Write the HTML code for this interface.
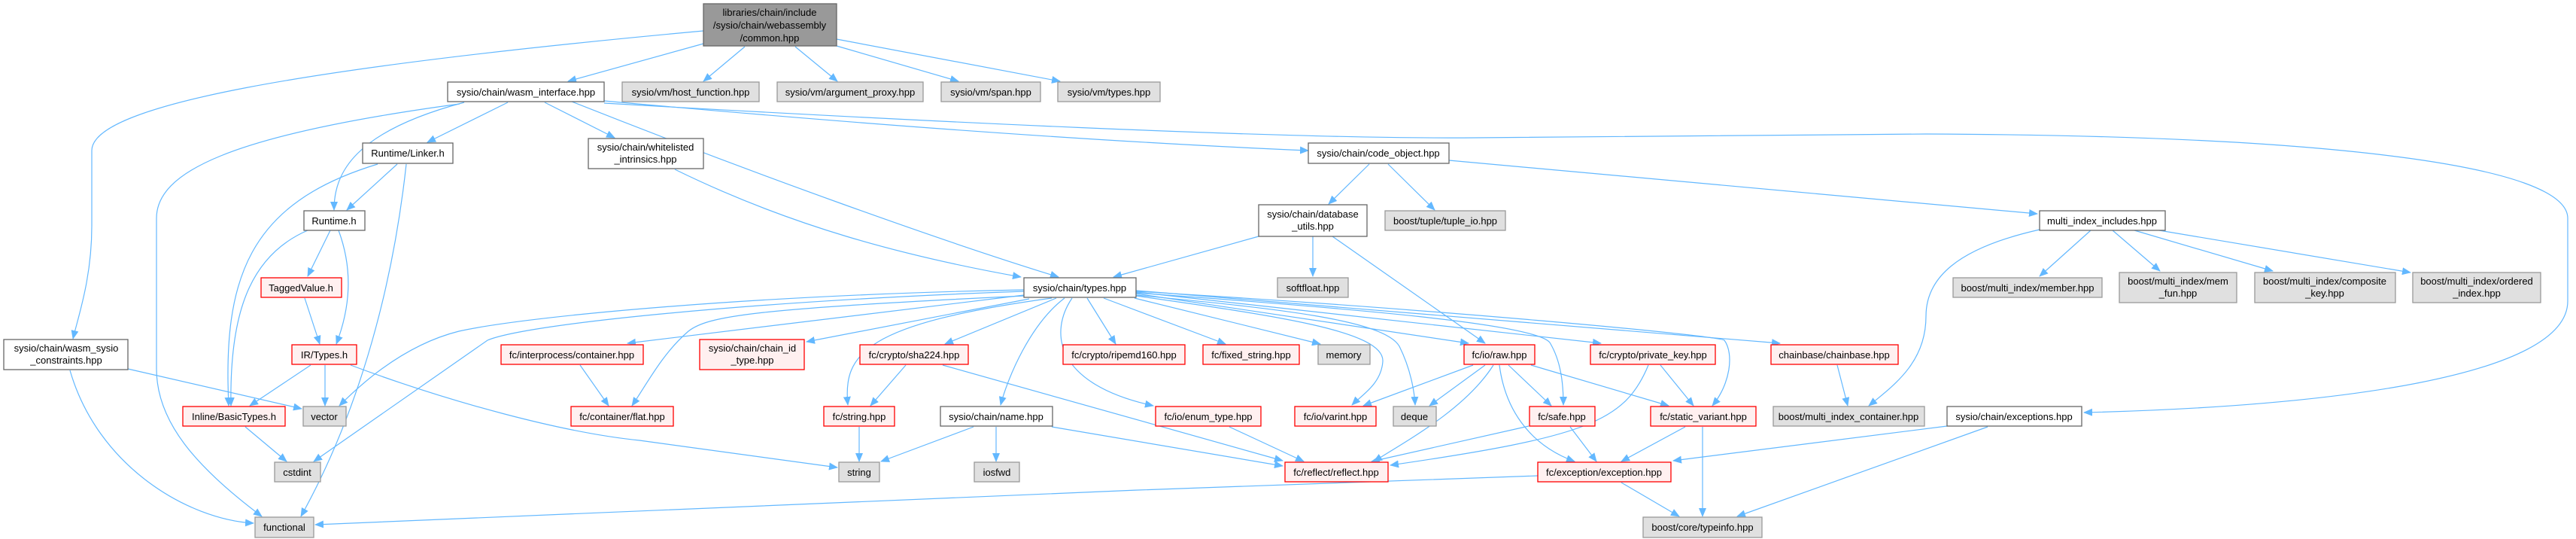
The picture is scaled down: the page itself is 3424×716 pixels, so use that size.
<!DOCTYPE html>
<html><head><meta charset="utf-8"><style>
html,body{margin:0;padding:0;background:#fff;}
svg{display:block;}
text{font-family:"Liberation Sans",Arial,sans-serif;font-size:13px;fill:#000;text-anchor:middle;}
.e{fill:none;stroke:#63b8ff;stroke-width:1.2;marker-end:url(#a);}
.w{fill:#fff;stroke:#666;stroke-width:1.3;}
.g{fill:#e0e0e0;stroke:#999;stroke-width:1.3;}
.r{fill:#fff0f0;stroke:#f00;stroke-width:1.3;}
.t{fill:#999;stroke:#666;stroke-width:1.3;}
</style></head><body>
<svg width="3424" height="716" viewBox="0 0 3424 716" xmlns="http://www.w3.org/2000/svg">
<defs><marker id="a" markerWidth="12" markerHeight="10" refX="11" refY="5" orient="auto" markerUnits="userSpaceOnUse"><path d="M0,0 L12,5 L0,10 z" fill="#63b8ff"/></marker></defs>

<!-- edges -->
<path class="e" d="M935,41 C400,90 122,140 122,200 L122,300 C122,370 104,420 97,450"/>
<path class="e" d="M935,58 L755,108"/>
<path class="e" d="M990,62 L935,108"/>
<path class="e" d="M1057,62 L1113,108"/>
<path class="e" d="M1112,61 L1274,108"/>
<path class="e" d="M1112,52 L1409,108"/>

<path class="e" d="M675,136 L568,189"/>
<path class="e" d="M724,136 L817,183"/>
<path class="e" d="M617,136 C470,175 444,230 444,279"/>
<path class="e" d="M611,138 C300,180 208,230 208,290 L208,490 C208,560 260,620 348,686"/>
<path class="e" d="M760,135 C1000,230 1250,320 1407,368"/>
<path class="e" d="M803,134 C1200,170 1500,190 1739,200"/>
<path class="e" d="M803,137 C1200,160 1700,185 1960,183 L2560,178 C3100,180 3413,220 3413,290 L3413,400 C3413,500 3100,540 2770,548"/>

<path class="e" d="M528,218 L461,279"/>
<path class="e" d="M502,218 C330,270 296,370 304,539"/>
<path class="e" d="M540,218 C520,400 470,560 400,686"/>

<path class="e" d="M439,306 L409,367"/>
<path class="e" d="M450,306 C470,360 465,410 447,457"/>
<path class="e" d="M409,306 C330,340 305,420 307,539"/>
<path class="e" d="M405,396 L425,457"/>

<path class="e" d="M413,485 L332,539"/>
<path class="e" d="M432,485 L432,539"/>
<path class="e" d="M466,485 C600,535 750,575 850,585 L1113,621"/>
<path class="e" d="M170,490 L401,543"/>
<path class="e" d="M93,492 C130,620 250,690 337,695"/>
<path class="e" d="M326,567 L381,613"/>

<path class="e" d="M1361,385 C1000,392 700,420 610,440 C530,460 470,520 451,539"/>
<path class="e" d="M1361,387 C1000,400 700,430 648,452 L417,613"/>
<path class="e" d="M1361,392 L834,456"/>
<path class="e" d="M1362,393 C1000,410 940,420 915,440 C880,470 860,510 840,539"/>
<path class="e" d="M1368,397 L1072,454"/>
<path class="e" d="M1398,396 C1150,430 1120,470 1127,538"/>
<path class="e" d="M1404,396 L1256,457"/>
<path class="e" d="M1415,396 C1370,430 1340,500 1330,538"/>
<path class="e" d="M1445,396 L1483,457"/>
<path class="e" d="M1425,396 C1395,440 1400,510 1533,539"/>
<path class="e" d="M1467,396 L1629,457"/>
<path class="e" d="M1508,396 L1755,457"/>
<path class="e" d="M1510,393 C1700,420 1840,440 1838,480 C1836,510 1810,525 1797,538"/>
<path class="e" d="M1510,392 C1700,410 1840,425 1860,460 C1875,490 1880,520 1881,538"/>
<path class="e" d="M1510,390 L1952,456"/>
<path class="e" d="M1510,389 C1800,410 2040,430 2060,455 C2075,480 2078,510 2078,538"/>
<path class="e" d="M1510,388 L2128,456"/>
<path class="e" d="M1510,387 C1900,410 2280,445 2292,452 C2305,470 2300,510 2276,539"/>
<path class="e" d="M1510,386 L2366,456"/>

<path class="e" d="M1204,485 L1157,539"/>
<path class="e" d="M1253,485 L1705,612"/>
<path class="e" d="M1142,567 L1142,613"/>
<path class="e" d="M1294,567 L1171,613"/>
<path class="e" d="M1324,567 L1324,613"/>
<path class="e" d="M1398,567 L1705,619"/>
<path class="e" d="M1634,567 L1733,613"/>
<path class="e" d="M771,485 L809,539"/>

<path class="e" d="M1673,314 L1480,368"/>
<path class="e" d="M1745,314 L1745,367"/>
<path class="e" d="M1771,314 L1974,456"/>
<path class="e" d="M897,225 C1050,300 1200,340 1357,368"/>

<path class="e" d="M1820,218 L1766,271"/>
<path class="e" d="M1845,218 L1907,279"/>
<path class="e" d="M1926,213 L2708,284"/>

<path class="e" d="M2779,306 L2711,367"/>
<path class="e" d="M2808,306 L2871,360"/>
<path class="e" d="M2837,306 L3021,360"/>
<path class="e" d="M2870,306 L3204,362"/>
<path class="e" d="M2711,305 C2600,330 2560,370 2560,420 C2560,480 2520,510 2484,539"/>

<path class="e" d="M1958,485 L1812,539"/>
<path class="e" d="M1974,485 L1900,539"/>
<path class="e" d="M1985,485 C1950,540 1880,580 1826,613"/>
<path class="e" d="M2005,485 L2062,539"/>
<path class="e" d="M1993,485 C2000,540 2030,590 2093,613"/>
<path class="e" d="M2035,485 L2218,539"/>
<path class="e" d="M2191,485 C2160,560 2110,580 1848,618"/>
<path class="e" d="M2207,485 L2251,539"/>
<path class="e" d="M2442,485 L2456,539"/>
<path class="e" d="M2032,566 L1823,613"/>
<path class="e" d="M2087,567 L2122,613"/>
<path class="e" d="M2240,567 L2155,613"/>
<path class="e" d="M2263,567 L2263,686"/>
<path class="e" d="M2155,641 L2232,686"/>
<path class="e" d="M2044,632 C1500,650 900,675 419,697"/>
<path class="e" d="M2588,566 L2224,612"/>
<path class="e" d="M2642,567 L2309,686"/>

<!-- nodes -->
<rect class="t" x="935" y="5" width="177" height="56"/>
<text x="1023" y="21">libraries/chain/include</text><text x="1023" y="38">/sysio/chain/webassembly</text><text x="1023" y="55">/common.hpp</text>

<rect class="w" x="595" y="109" width="208" height="26"/><text x="699" y="127">sysio/chain/wasm_interface.hpp</text>
<rect class="g" x="827" y="109" width="182" height="26"/><text x="918" y="127">sysio/vm/host_function.hpp</text>
<rect class="g" x="1033" y="109" width="194" height="26"/><text x="1130" y="127">sysio/vm/argument_proxy.hpp</text>
<rect class="g" x="1251" y="109" width="132" height="26"/><text x="1317" y="127">sysio/vm/span.hpp</text>
<rect class="g" x="1406" y="109" width="136" height="26"/><text x="1474" y="127">sysio/vm/types.hpp</text>

<rect class="w" x="482" y="190" width="120" height="27"/><text x="542" y="208">Runtime/Linker.h</text>
<rect class="w" x="782" y="184" width="153" height="40"/><text x="858" y="200">sysio/chain/whitelisted</text><text x="858" y="216">_intrinsics.hpp</text>
<rect class="w" x="1739" y="190" width="187" height="27"/><text x="1832" y="208">sysio/chain/code_object.hpp</text>

<rect class="w" x="404" y="280" width="81" height="26"/><text x="444" y="298">Runtime.h</text>
<rect class="w" x="1673" y="272" width="144" height="42"/><text x="1745" y="289">sysio/chain/database</text><text x="1745" y="305">_utils.hpp</text>
<rect class="g" x="1841" y="280" width="160" height="26"/><text x="1921" y="298">boost/tuple/tuple_io.hpp</text>
<rect class="w" x="2711" y="280" width="167" height="26"/><text x="2794" y="298">multi_index_includes.hpp</text>

<rect class="r" x="347" y="369" width="107" height="26"/><text x="400" y="387">TaggedValue.h</text>
<rect class="w" x="1361" y="369" width="149" height="26"/><text x="1435" y="387">sysio/chain/types.hpp</text>
<rect class="g" x="1698" y="369" width="94" height="26"/><text x="1745" y="387">softfloat.hpp</text>
<rect class="g" x="2596" y="369" width="198" height="26"/><text x="2695" y="387">boost/multi_index/member.hpp</text>
<rect class="g" x="2817" y="362" width="156" height="40"/><text x="2895" y="378">boost/multi_index/mem</text><text x="2895" y="394">_fun.hpp</text>
<rect class="g" x="2997" y="362" width="187" height="40"/><text x="3090" y="378">boost/multi_index/composite</text><text x="3090" y="394">_key.hpp</text>
<rect class="g" x="3207" y="362" width="170" height="40"/><text x="3292" y="378">boost/multi_index/ordered</text><text x="3292" y="394">_index.hpp</text>

<rect class="w" x="5" y="451" width="165" height="40"/><text x="88" y="467">sysio/chain/wasm_sysio</text><text x="88" y="483">_constraints.hpp</text>
<rect class="r" x="388" y="458" width="86" height="26"/><text x="431" y="476">IR/Types.h</text>
<rect class="r" x="666" y="458" width="189" height="26"/><text x="760" y="476">fc/interprocess/container.hpp</text>
<rect class="r" x="930" y="451" width="139" height="40"/><text x="1000" y="467">sysio/chain/chain_id</text><text x="1000" y="483">_type.hpp</text>
<rect class="r" x="1143" y="458" width="144" height="26"/><text x="1215" y="476">fc/crypto/sha224.hpp</text>
<rect class="r" x="1413" y="458" width="162" height="26"/><text x="1494" y="476">fc/crypto/ripemd160.hpp</text>
<rect class="r" x="1599" y="458" width="128" height="26"/><text x="1663" y="476">fc/fixed_string.hpp</text>
<rect class="g" x="1752" y="458" width="69" height="26"/><text x="1786" y="476">memory</text>
<rect class="r" x="1946" y="458" width="94" height="26"/><text x="1993" y="476">fc/io/raw.hpp</text>
<rect class="r" x="2114" y="458" width="166" height="26"/><text x="2197" y="476">fc/crypto/private_key.hpp</text>
<rect class="r" x="2354" y="458" width="169" height="26"/><text x="2438" y="476">chainbase/chainbase.hpp</text>

<rect class="r" x="243" y="540" width="136" height="26"/><text x="311" y="558">Inline/BasicTypes.h</text>
<rect class="g" x="403" y="540" width="57" height="26"/><text x="431" y="558">vector</text>
<rect class="r" x="759" y="540" width="136" height="26"/><text x="827" y="558">fc/container/flat.hpp</text>
<rect class="r" x="1095" y="540" width="94" height="26"/><text x="1142" y="558">fc/string.hpp</text>
<rect class="w" x="1250" y="540" width="149" height="26"/><text x="1324" y="558">sysio/chain/name.hpp</text>
<rect class="r" x="1536" y="540" width="140" height="26"/><text x="1606" y="558">fc/io/enum_type.hpp</text>
<rect class="r" x="1721" y="540" width="108" height="26"/><text x="1775" y="558">fc/io/varint.hpp</text>
<rect class="g" x="1852" y="540" width="57" height="26"/><text x="1880" y="558">deque</text>
<rect class="r" x="2033" y="540" width="87" height="26"/><text x="2076" y="558">fc/safe.hpp</text>
<rect class="r" x="2194" y="540" width="140" height="26"/><text x="2264" y="558">fc/static_variant.hpp</text>
<rect class="g" x="2357" y="540" width="201" height="26"/><text x="2457" y="558">boost/multi_index_container.hpp</text>
<rect class="w" x="2588" y="540" width="179" height="26"/><text x="2677" y="558">sysio/chain/exceptions.hpp</text>

<rect class="g" x="365" y="614" width="61" height="26"/><text x="395" y="632">cstdint</text>
<rect class="g" x="1115" y="614" width="54" height="26"/><text x="1142" y="632">string</text>
<rect class="g" x="1295" y="614" width="60" height="26"/><text x="1325" y="632">iosfwd</text>
<rect class="r" x="1708" y="614" width="137" height="26"/><text x="1776" y="632">fc/reflect/reflect.hpp</text>
<rect class="r" x="2044" y="614" width="177" height="26"/><text x="2132" y="632">fc/exception/exception.hpp</text>

<rect class="g" x="339" y="687" width="78" height="27"/><text x="378" y="705">functional</text>
<rect class="g" x="2184" y="687" width="158" height="27"/><text x="2263" y="705">boost/core/typeinfo.hpp</text>
</svg>
</body></html>
